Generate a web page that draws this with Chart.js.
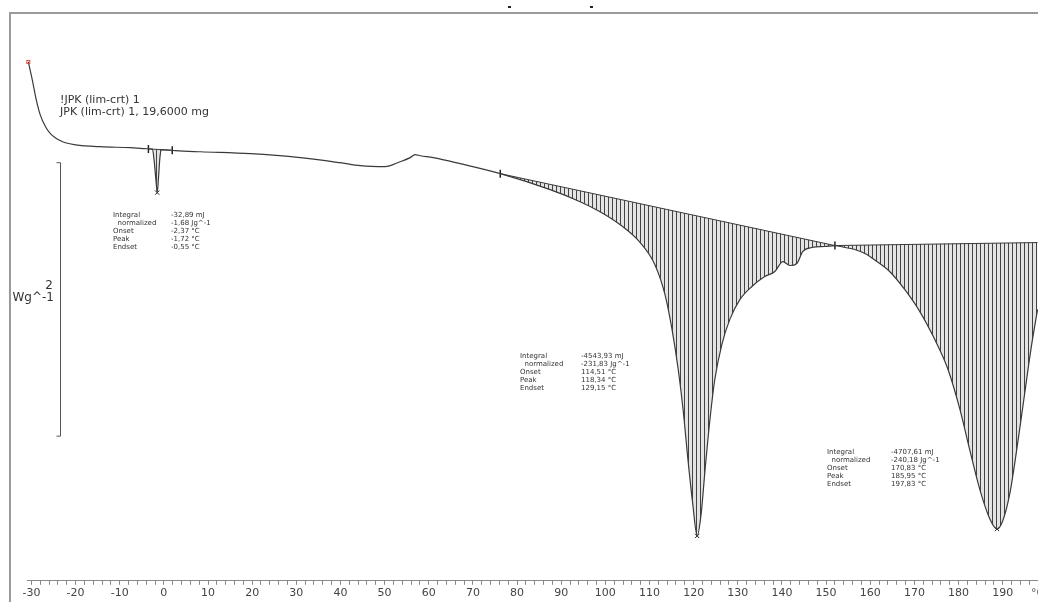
<!DOCTYPE html>
<html>
<head>
<meta charset="utf-8">
<script src="https://cdn.jsdelivr.net/npm/chart.js@4.4.1/dist/chart.umd.min.js"></script>
<style>
  html, body { margin: 0; padding: 0; background: #fff; }
  #dsc { display: block; }
</style>
</head>
<body>
<canvas id="dsc" width="1038" height="602"></canvas>
<script>
// DSC curve, temperature in °C, heat flow in W/g (arbitrary offset)
var tempC = [-30.7, -29.8, -28.9, -28.0, -26.8, -25.7, -24.6, -23.4, -22.3, -20.0, -14.4, -7.6, -3.7,
  -2.6, -2.2, -1.8, -1.5, -1.2, -0.9, -0.6, 2.6, 8.3, 19.6, 30.9, 39.9, 44.5, 50.1, 53.5, 55.8, 56.9,
  58.1, 61.0, 67.1, 76.2, 87.5, 94.3, 98.8, 103.3, 107.9, 111.2, 113.5, 115.1, 116.5, 117.6, 118.7,
  119.8, 120.8, 121.7, 122.6, 123.7, 124.8, 126.4, 128.2, 130.5, 133.2, 136.1, 138.4, 140.2, 141.8,
  143.4, 144.7, 146.8, 149.7, 152.0, 154.3, 156.5, 158.8, 161.5, 164.4, 167.8, 171.2, 174.6, 177.6,
  180.3, 182.5, 184.8, 187.1, 188.7, 190.0, 191.6, 193.2, 194.8, 196.4, 197.9];
var heatFlow = [0.642, 0.511, 0.365, 0.255, 0.168, 0.117, 0.088, 0.066, 0.051, 0.036, 0.022, 0.015, 0.007,
  0.004, -0.08, -0.22, -0.314, -0.2, -0.06, 0.0, -0.007, -0.015, -0.029, -0.058, -0.095, -0.117, -0.124,
  -0.088, -0.058, -0.036, -0.044, -0.058, -0.102, -0.175, -0.292, -0.380, -0.453, -0.547, -0.679, -0.839,
  -1.058, -1.314, -1.606, -1.898, -2.263, -2.591, -2.825, -2.664, -2.336, -1.971, -1.679, -1.423, -1.241,
  -1.095, -1.0, -0.927, -0.891, -0.818, -0.847, -0.832, -0.745, -0.715, -0.708, -0.701, -0.715, -0.730,
  -0.759, -0.818, -0.891, -1.022, -1.182, -1.387, -1.606, -1.898, -2.190, -2.482, -2.701, -2.774, -2.715,
  -2.518, -2.190, -1.825, -1.460, -1.168];

// integration baselines
var base1T = [-3.5, 1.9];
var base1V = [0.006, -0.004];
var base2T = [76.2, 152.0];
var base2V = [-0.175, -0.701];
var base3T = [152.0, 197.9];
var base3V = [-0.701, -0.679];

// peak and limit markers
var peakT = [-1.5, 120.8, 188.7];
var peakV = [-0.314, -2.825, -2.774];
var limitT = [-3.5, 1.9, 76.2, 152.0];
var limitV = [0.006, -0.004, -0.175, -0.701];

// x axis tick labels
var tickLabels = [-30, -20, -10, 0, 10, 20, 30, 40, 50, 60, 70, 80, 90, 100, 110, 120, 130, 140, 150, 160, 170, 180, 190];

var sampleTitle = ["!JPK (lim-crt) 1", "JPK (lim-crt) 1, 19,6000 mg"];
var resultKeys = ["Integral", "  normalized", "Onset", "Peak", "Endset"];
var results = [
  ["-32,89 mJ", "-1,68 Jg^-1", "-2,37 °C", "-1,72 °C", "-0,55 °C"],
  ["-4543,93 mJ", "-231,83 Jg^-1", "114,51 °C", "118,34 °C", "129,15 °C"],
  ["-4707,61 mJ", "-240,18 Jg^-1", "170,83 °C", "185,95 °C", "197,83 °C"]
];
var resultPos = [[113, 215, 171], [520, 356, 581], [827, 452, 891]];

var scaleBarTop = -0.095;
var scaleBarSpan = 2;

function pts(xs, ys) {
  return xs.map(function (v, i) { return { x: v, y: ys[i] }; });
}

var canvas = document.getElementById("dsc");
var ctx = canvas.getContext("2d");

var tile = document.createElement("canvas");
tile.width = 4; tile.height = 4;
var tctx = tile.getContext("2d");
tctx.fillStyle = "rgba(205,205,205,0.55)";
tctx.fillRect(0, 0, 4, 4);
tctx.fillStyle = "rgba(50,50,50,0.9)";
tctx.fillRect(0, 0, 1, 4);
var hatch = ctx.createPattern(tile, "repeat");

var extras = {
  id: "extras",
  afterDraw: function (chart) {
    var c = chart.ctx, y = chart.scales.y, x = chart.scales.x;
    c.save();
    // frame
    c.strokeStyle = "#9a9a9a";
    c.lineWidth = 2;
    c.beginPath();
    c.moveTo(10, 602); c.lineTo(10, 13); c.lineTo(1038, 13);
    c.stroke();
    c.fillStyle = "#222";
    c.fillRect(508, 6, 3, 2);
    c.fillRect(590, 6, 3, 2);

    // start marker
    c.strokeStyle = "#d05040";
    c.lineWidth = 1;
    c.strokeRect(x.getPixelForValue(tempC[0]) - 1.5, y.getPixelForValue(heatFlow[0]) - 1.5, 3, 3);

    // scale bar
    var yt = y.getPixelForValue(scaleBarTop);
    var yb = y.getPixelForValue(scaleBarTop - scaleBarSpan);
    c.strokeStyle = "#555";
    c.beginPath();
    c.moveTo(56.5, yt); c.lineTo(60.5, yt); c.lineTo(60.5, yb); c.lineTo(56.5, yb);
    c.stroke();
    c.fillStyle = "#333";
    c.font = "12px 'DejaVu Sans'";
    c.textAlign = "right";
    c.textBaseline = "middle";
    c.fillText(String(scaleBarSpan), 53, (yt + yb) / 2 - 14);
    c.fillText("Wg^-1", 54, (yt + yb) / 2 - 2);

    // sample name
    c.font = "11px 'DejaVu Sans'";
    c.textAlign = "left";
    c.fillText(sampleTitle[0], 60, 100);
    c.fillText(sampleTitle[1], 60, 112);

    // result blocks
    c.font = "7px 'DejaVu Sans'";
    results.forEach(function (vals, b) {
      var p = resultPos[b];
      for (var i = 0; i < resultKeys.length; i++) {
        var ty = p[1] + i * 8;
        c.fillText(resultKeys[i], p[0], ty);
        c.fillText(vals[i], p[2], ty);
      }
    });

    // unit at right end of axis
    c.font = "11px 'DejaVu Sans'";
    c.fillStyle = "#555";
    c.fillText("°C", 1031, 593);
    c.restore();
  }
};

var lineCol = "#3a3a3a";

new Chart(canvas, {
  type: "line",
  data: {
    datasets: [{
      label: "curve",
      data: pts(tempC, heatFlow),
      borderColor: lineCol,
      borderWidth: 1.2,
      pointRadius: 0,
      cubicInterpolationMode: "monotone",
      fill: false
    }, {
      label: "base1",
      data: pts(base1T, base1V),
      borderColor: lineCol,
      borderWidth: 1,
      pointRadius: 0,
      backgroundColor: hatch,
      fill: { target: 0 }
    }, {
      label: "base2",
      data: pts(base2T, base2V),
      borderColor: lineCol,
      borderWidth: 1,
      pointRadius: 0,
      backgroundColor: hatch,
      fill: { target: 0 }
    }, {
      label: "base3",
      data: pts(base3T, base3V),
      borderColor: lineCol,
      borderWidth: 1,
      pointRadius: 0,
      backgroundColor: hatch,
      fill: { target: 0 }
    }, {
      label: "peaks",
      data: pts(peakT, peakV),
      showLine: false,
      pointStyle: "crossRot",
      pointRadius: 3,
      borderColor: "#222",
      borderWidth: 1
    }, {
      label: "limits",
      data: pts(limitT, limitV),
      showLine: false,
      pointStyle: "line",
      rotation: 90,
      pointRadius: 4,
      borderColor: "#222",
      borderWidth: 1.5
    }]
  },
  options: {
    responsive: false,
    animation: false,
    layout: { autoPadding: false, padding: { left: 27, right: 0, top: 13, bottom: 0 } },
    plugins: { legend: { display: false }, tooltip: { enabled: false } },
    scales: {
      x: {
        type: "linear",
        min: -31,
        max: 198,
        afterBuildTicks: function (scale) {
          var t = [];
          for (var v = tickLabels[0]; v <= 198; v += 2) t.push({ value: v });
          scale.ticks = t;
        },
        afterFit: function (scale) {
          scale.paddingLeft = 0;
          scale.paddingRight = 0;
        },
        ticks: {
          autoSkip: false,
          maxRotation: 0,
          padding: 2,
          color: "#444",
          font: { family: "DejaVu Sans", size: 11 },
          callback: function (v) { return tickLabels.indexOf(v) >= 0 ? String(v) : ""; }
        },
        grid: {
          drawOnChartArea: false,
          drawTicks: true,
          tickLength: 4,
          color: "#888"
        },
        border: { display: true, color: "#888", width: 1 }
      },
      y: {
        display: false,
        min: -3.153,
        max: 1.0
      }
    }
  },
  plugins: [extras]
});
</script>
</body>
</html>
